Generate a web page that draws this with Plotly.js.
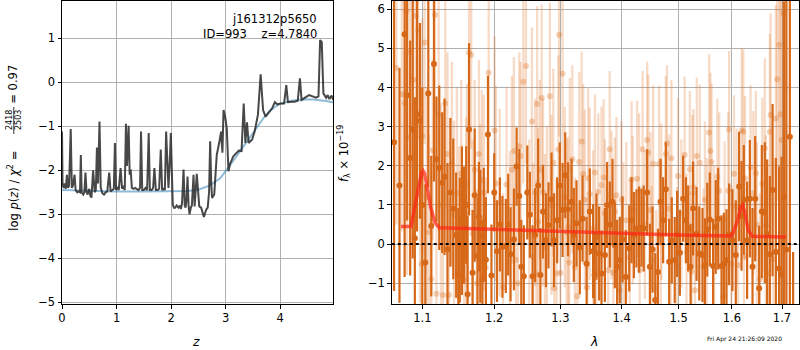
<!DOCTYPE html>
<html>
<head>
<meta charset="utf-8">
<script src="https://cdn.plot.ly/plotly-3.0.1.min.js"></script>
<style>html,body{margin:0;padding:0;background:#fff;}#chart{width:800px;height:350px;}</style>
</head>
<body>
<div id="chart"></div>
<script>
// ---- Left panel: log p(z) ----
const zGrid = [0,0.01,0.03,0.05,0.07,0.09,0.11,0.13,0.16,0.18,0.2,0.23,0.25,0.28,0.3,0.33,0.345,0.36,0.39,0.41,0.43,0.45,0.47,0.5,0.52,0.54,0.57,0.6,0.62,0.64,0.66,0.687,0.71,0.74,0.77,0.8,0.83,0.865,0.89,0.92,0.95,0.97,0.99,1.01,1.04,1.074,1.1,1.123,1.15,1.172,1.19,1.205,1.221,1.24,1.258,1.28,1.31,1.34,1.37,1.4,1.43,1.448,1.47,1.5,1.53,1.56,1.589,1.61,1.644,1.67,1.693,1.72,1.75,1.78,1.81,1.835,1.86,1.885,1.908,1.93,1.951,1.975,1.994,2.015,2.03,2.05,2.074,2.1,2.135,2.16,2.178,2.2,2.227,2.25,2.264,2.28,2.3,2.32,2.337,2.36,2.38,2.41,2.43,2.47,2.5,2.515,2.55,2.6,2.64,2.67,2.695,2.715,2.735,2.75,2.79,2.836,2.88,2.915,2.94,2.96,2.99,3.02,3.05,3.08,3.14,3.2,3.24,3.29,3.33,3.36,3.39,3.42,3.485,3.53,3.59,3.64,3.685,3.73,3.79,3.85,3.9,3.945,4.0,4.07,4.11,4.14,4.2,4.26,4.32,4.36,4.39,4.44,4.49,4.53,4.59,4.655,4.7,4.73,4.76,4.79,4.84,4.87,4.9,4.94,4.97];
const logPz = [-1.12,-2.3,-2.4,-2.3,-2.42,-2.1,-2.4,-2.35,-1.06,-2.4,-2.35,-2.1,-2.45,-2.5,-2.48,-2.5,-1.65,-2.5,-2.55,-2.5,-2.05,-2.5,-2.55,-2.42,-2.58,-2.62,-2.0,-2.5,-2.45,-1.48,-2.3,-0.89,-2.4,-2.52,-2.55,-2.5,-2.48,-2.05,-2.48,-2.45,-2.42,-1.38,-2.45,-2.38,-2.45,-1.95,-2.42,-2.35,-2.45,-0.94,-1.9,-1.5,-0.99,-2.1,-1.98,-2.4,-2.42,-2.4,-2.42,-2.45,-2.4,-1.12,-2.45,-2.45,-2.4,-2.45,-1.15,-2.45,-2.45,-2.4,-1.95,-2.45,-2.45,-2.42,-1.53,-2.45,-2.42,-2.45,-1.12,-2.0,-2.4,-1.8,-1.15,-2.1,-2.78,-2.85,-2.85,-2.8,-2.85,-2.8,-2.88,-2.75,-1.98,-2.8,-2.85,-2.7,-2.14,-2.8,-3.0,-2.85,-2.8,-2.1,-2.82,-2.08,-2.7,-2.82,-2.85,-3.06,-2.9,-2.85,-2.5,-1.34,-2.3,-2.63,-2.55,-1.65,-1.38,-1.12,-1.6,-0.63,-0.78,-1.05,-2.02,-1.85,-1.68,-1.6,-1.55,-1.56,-0.48,-1.38,-0.91,-1.38,-1.3,-1.12,-0.74,0.18,-0.63,-0.78,-0.68,-0.59,-0.45,-0.5,-0.48,-0.48,-0.06,-0.45,-0.44,-0.44,-0.42,0.09,-0.4,-0.35,-0.32,-0.29,-0.32,-0.35,-0.32,0.96,0.92,-0.25,-0.35,-0.29,-0.38,-0.3,-0.4];
const zPrior = [0,0.5,1,1.5,2,2.3,2.5,2.7,2.9,3.0,3.1,3.2,3.3,3.4,3.5,3.6,3.7,3.8,3.9,4.0,4.2,4.4,4.6,4.8,4.97];
const logPrior = [-2.45,-2.47,-2.48,-2.48,-2.48,-2.47,-2.44,-2.35,-2.18,-2.02,-1.85,-1.68,-1.5,-1.32,-1.14,-0.96,-0.8,-0.66,-0.56,-0.49,-0.42,-0.39,-0.39,-0.42,-0.45];

// ---- Right panel: spectrum ----
const lamLight = [1.066,1.073,1.0773,1.079,1.080,1.084,1.088,1.0915,1.0945,1.097,1.099,1.100,1.103,1.106,1.109,1.112,1.114,1.117,1.119,1.122,1.125,1.128,1.131,1.134,1.136,1.140,1.143,1.147,1.150,1.153,1.157,1.160,1.161,1.164,1.167,1.169,1.172,1.175,1.178,1.180,1.182,1.185,1.188,1.192,1.2005,1.2025,1.208,1.213,1.218,1.223,1.226,1.229,1.232,1.235,1.237,1.239,1.243,1.247,1.252,1.256,1.258,1.261,1.263,1.264,1.2655,1.268,1.271,1.273,1.276,1.279,1.2836,1.286,1.289,1.2905,1.294,1.297,1.298,1.300,1.3035,1.307,1.310,1.3125,1.314,1.315,1.319,1.323,1.327,1.330,1.334,1.3365,1.339,1.343,1.3445,1.347,1.3526,1.3555,1.358,1.361,1.3664,1.370,1.372,1.3775,1.380,1.383,1.386,1.3886,1.3913,1.397,1.3998,1.403,1.408,1.414,1.417,1.419,1.4265,1.430,1.431,1.436,1.440,1.444,1.446,1.450,1.4518,1.4545,1.460,1.465,1.468,1.469,1.477,1.479,1.483,1.4857,1.487,1.4973,1.499,1.505,1.511,1.5145,1.5206,1.5237,1.5255,1.527,1.530,1.5335,1.539,1.546,1.5486,1.552,1.5565,1.559,1.561,1.566,1.572,1.5755,1.583,1.586,1.593,1.5946,1.599,1.604,1.609,1.612,1.619,1.6222,1.6235,1.6255,1.6365,1.642,1.647,1.649,1.655,1.660,1.665,1.667,1.6697,1.6752,1.6766,1.682,1.6874,1.690,1.694,1.697,1.699,1.703,1.706];
const fluxLight = [4.5,3.83,3.6,5.95,2.72,4.9,4.2,5.83,5.47,1.5,-0.5,2.76,5.15,1.2,0.3,-0.9,2.4,5.85,-1.27,3.3,1.0,-1.3,3.6,2.3,-1.3,2.05,0.75,1.3,0.0,1.8,-0.9,0.74,1.5,4.89,4.83,0.27,1.9,-1.0,2.3,0.66,1.64,1.31,-0.6,4.38,2.9,1.55,1.06,-1.1,1.52,0.08,1.9,2.38,-0.4,-1.0,2.5,2.25,4.15,4.55,0.27,3.13,-0.33,1.32,-0.77,3.58,0.57,1.9,3.73,1.32,-0.1,0.72,3.78,1.0,2.08,-1.13,-0.75,2.42,5.35,-0.73,4.35,1.2,0.3,0.44,-0.47,1.94,2.17,-0.6,-1.33,2.1,2.62,1.79,1.13,-1.1,1.68,1.28,0.4,1.83,-0.71,1.34,1.51,1.7,0.78,-0.67,2.42,1.0,-0.73,0.83,1.25,-1.18,1.13,0.2,0.61,-0.34,1.65,0.87,1.67,1.34,-0.67,2.42,0.5,2.66,2.34,0.87,-0.41,2.05,-1.13,2.05,0.26,1.08,2.3,2.57,0.9,0.1,2.19,-0.54,1.74,0.78,2.28,-0.2,1.91,-0.71,1.3,1.45,-1.18,2.25,2.08,-0.58,1.13,0.3,2.85,2.38,2.1,0.0,1.72,1.36,-1.35,0.63,1.36,2.93,-0.5,1.8,0.95,-0.54,2.91,2.87,-0.31,1.68,1.96,1.3,1.81,0.5,-0.9,1.54,2.45,0.48,-0.75,2.87,3.3,-0.39,3.21,4.21,5.09,3.32,2.66,5.9,4.0];
const errLight = [4.0,3.5,3.0,3.0,3.5,3.0,3.2,3.0,2.8,3.0,3.2,3.0,2.6,2.8,2.5,2.8,2.3,2.5,2.3,
  3.0,2.6,2.8,2.7,2.6,2.5,2.6,2.4,2.7,2.5,2.4,2.5,2.5,2.6,2.4,2.4,2.4,2.3,2.4,2.4,2.4,2.3,2.5,2.3,2.4,
  2.4,2.5,2.4,2.4,2.5,2.3,2.4,2.4,2.4,2.3,2.4,2.4,2.6,2.5,2.4,2.4,2.4,2.4,2.4,2.5,2.4,2.3,2.4,2.4,2.4,2.3,2.4,2.3,2.4,2.4,2.4,2.4,2.6,2.3,2.4,2.3,2.4,2.3,2.4,2.3,2.4,2.3,2.3,2.3,2.3,2.3,2.3,2.3,2.3,2.2,
  2.0,2.0,1.9,2.0,2.0,2.0,1.9,2.0,2.0,1.9,2.0,1.9,2.0,1.9,2.0,1.9,2.0,2.0,2.0,1.9,2.0,2.0,1.9,2.0,1.9,2.0,2.0,2.0,1.9,2.0,2.0,2.0,1.9,2.0,2.0,2.0,1.9,1.9,2.0,2.0,2.0,1.9,2.0,2.0,2.0,1.9,2.0,
  2.0,2.0,2.0,2.0,2.0,2.0,1.9,2.0,2.0,2.0,2.0,2.0,2.0,2.0,2.0,2.0,2.0,2.0,2.0,2.0,2.0,2.1,2.1,2.0,2.1,2.1,2.1,2.1,2.1,2.2,2.2,2.3,2.3,2.3,2.5,2.6,2.6,2.9,3.1,3.3,3.3,3.6,3.8,4.0];

const lamDark = [1.063,1.070,1.0767,1.080,1.084,1.0873,1.0901,1.093,1.0969,1.100,1.104,1.108,1.112,1.1156,1.119,1.1228,1.1268,1.130,1.134,1.138,1.142,1.146,1.149,1.151,1.154,1.157,1.160,1.162,1.164,1.169,1.172,1.176,1.178,1.180,1.183,1.185,1.188,1.191,1.196,1.200,1.204,1.2083,1.212,1.217,1.2205,1.224,1.229,1.233,1.237,1.240,1.2438,1.249,1.2529,1.257,1.261,1.2655,1.269,1.273,1.2775,1.2815,1.2862,1.290,1.295,1.2992,1.3035,1.3077,1.312,1.3177,1.3214,1.3257,1.331,1.3354,1.342,1.3472,1.3526,1.355,1.358,1.3625,1.3664,1.372,1.3757,1.3802,1.3847,1.3886,1.3925,1.397,1.4016,1.4072,1.413,1.417,1.421,1.4255,1.430,1.4342,1.438,1.444,1.4488,1.4535,1.4582,1.463,1.4676,1.4722,1.477,1.483,1.4877,1.493,1.4973,1.5023,1.5083,1.5133,1.5175,1.522,1.5266,1.533,1.538,1.544,1.5486,1.553,1.5578,1.564,1.569,1.5736,1.580,1.5845,1.5896,1.5946,1.601,1.6075,1.614,1.6187,1.6232,1.6297,1.6351,1.6404,1.6457,1.6536,1.659,1.665,1.6697,1.6752,1.6807,1.6874,1.694,1.699,1.704,1.709,1.7162,1.723];
const fluxDark = [2.6,1.5,5.36,3.8,2.2,2.93,0.15,3.32,3.15,1.0,-0.47,3.85,0.46,4.6,2.17,1.95,1.57,1.72,-0.13,1.32,0.9,0.23,-0.78,0.1,0.6,0.48,1.0,-1.28,2.93,-0.73,1.25,-0.3,0.7,0.2,-0.9,0.55,-0.4,2.8,-0.8,1.32,-0.18,0.5,-0.07,-0.05,0.5,-0.26,0.12,1.98,1.23,-0.58,-0.82,1.32,0.75,-0.82,0.23,1.5,-0.79,0.83,0.1,0.48,1.14,0.1,0.61,1.5,0.87,1.76,0.89,1.08,0.23,0.53,-0.08,0.65,-0.5,0.83,-0.18,-0.79,0.19,-0.24,-0.75,-0.28,1.0,0.5,1.08,-0.03,-0.58,-0.41,0.12,-0.84,-0.11,0.61,0.23,0.4,0.37,0.42,0.4,1.32,-0.58,-0.14,-1.43,-0.71,1.08,0.61,1.4,-0.45,0.1,-0.41,0.26,-0.22,1.16,0.61,0.4,-0.58,0.91,0.26,-0.24,-0.28,-0.54,0.37,0.63,-0.56,0.44,0.65,-0.56,-0.5,-0.41,0.25,0.1,-0.28,1.47,0.72,1.13,0.1,1.16,-0.58,1.16,-1.13,0.83,0.8,0.26,-0.26,1.38,-0.2,-0.62,-0.77,1.2,-0.14,2.74,-2.2];
const errDark = [3.8,3.0,6.2,3.2,3.0,3.3,3.6,3.0,2.5,3.0,2.0,2.4,1.8,3.0,1.6,2.1,1.8,2.0,2.2,1.9,1.8,1.6,1.7,1.6,1.9,1.5,1.5,2.0,2.2,1.6,1.7,1.5,1.4,1.7,1.5,1.4,1.6,1.5,1.3,1.0,1.3,1.2,1.3,1.2,1.3,1.2,1.3,1.0,1.2,1.2,1.3,1.2,1.1,1.3,1.2,1.2,1.2,1.2,1.2,1.1,1.2,1.2,1.1,1.1,1.2,1.1,1.2,1.1,1.2,1.1,1.2,1.1,1.2,1.1,1.2,1.1,1.1,1.2,1.1,1.2,1.1,1.1,1.1,1.1,1.2,1.1,1.1,1.2,1.1,1.1,1.1,1.0,1.1,1.0,1.1,1.1,1.1,1.1,1.2,1.1,1.1,1.1,1.2,1.1,1.1,1.1,1.1,1.1,1.1,1.1,1.1,1.1,1.2,1.2,1.2,1.2,1.2,1.2,1.2,1.2,1.2,1.3,1.3,1.3,1.3,1.3,1.3,1.4,1.4,1.4,1.4,1.5,1.5,1.5,1.6,1.6,1.7,1.8,1.9,2.0,2.2,2.4,2.6,3.0,5.0,6.5,5.0,2.0];

const lamModel = [1.072,1.085,1.091,1.096,1.099,1.101,1.103,1.106,1.111,1.117,1.123,1.2,1.3,1.4,1.5,1.6,1.611,1.617,1.621,1.626,1.632,1.64,1.708];
const fluxModel = [0.45,0.45,1.05,1.6,1.82,1.87,1.8,1.5,0.95,0.55,0.42,0.38,0.32,0.26,0.23,0.21,0.6,0.95,1.0,0.75,0.35,0.2,0.18];

const lamTicks = [1.1,1.2,1.3,1.4,1.5,1.6,1.7];
const lamTickText = ['1.1','1.2','1.3','1.4','1.5','1.6','1.7'];

const FONT = 'DejaVu Sans, sans-serif';
const orangeDark = 'rgb(214,104,24)';
const orangeLight = 'rgba(222,112,30,0.25)';

const traces = [
  {x: zPrior, y: logPrior, xaxis:'x', yaxis:'y', mode:'lines', line:{color:'rgba(31,119,180,0.5)', width:2}, hoverinfo:'skip'},
  {x: zGrid, y: logPz, xaxis:'x', yaxis:'y', mode:'lines', line:{color:'rgba(40,40,40,0.85)', width:2}, hoverinfo:'skip'},
  {x: lamLight, y: fluxLight, xaxis:'x2', yaxis:'y2', mode:'markers',
   marker:{color:'rgba(222,112,30,0.32)', size:6, line:{width:0}},
   error_y:{type:'data', array:errLight, visible:true, thickness:2.3, width:0, color:orangeLight}},
  {x: lamDark, y: fluxDark, xaxis:'x2', yaxis:'y2', mode:'markers',
   marker:{color:orangeDark, size:6, line:{width:0}},
   error_y:{type:'data', array:errDark, visible:true, thickness:2.2, width:0, color:orangeDark}},
  {x: lamModel, y: fluxModel, xaxis:'x2', yaxis:'y2', mode:'lines', line:{color:'rgba(255,35,20,0.7)', width:3.5}}
];

const axisCommon = {
  showgrid:true, gridcolor:'#b0b0b0', gridwidth:1, zeroline:false,
  showline:true, mirror:true, linecolor:'black', linewidth:1,
  ticks:'outside', ticklen:3.5, tickwidth:1, tickcolor:'black',
  tickfont:{family:FONT, size:11.5, color:'black'}, automargin:false
};

function px2paperX(x){ return (x-62)/737; }
function px2paperY(y){ return (304-y)/303; }

const layout = {
  width:800, height:350,
  margin:{l:62, r:1, t:1, b:46, pad:0},
  paper_bgcolor:'white', plot_bgcolor:'white',
  showlegend:false,
  font:{family:FONT, size:11.5, color:'black'},
  xaxis: Object.assign({}, axisCommon, {domain:[0, 0.368], range:[0, 4.97], tick0:0, dtick:1, anchor:'y'}),
  yaxis: Object.assign({}, axisCommon, {domain:[0,1], range:[-5.04, 1.85], tick0:0, dtick:1, anchor:'x'}),
  xaxis2: Object.assign({}, axisCommon, {domain:[0.4474, 1], type:'log', range:[0.02532, 0.23938], tickmode:'array', tickvals:lamTicks, ticktext:lamTickText, anchor:'y2'}),
  yaxis2: Object.assign({}, axisCommon, {domain:[0,1], range:[-1.53, 6.21], tick0:0, dtick:1, anchor:'x2'}),
  shapes: [
    {type:'line', xref:'x2 domain', yref:'y2', x0:0, x1:1, y0:0, y1:0, line:{color:'black', width:2, dash:'dot'}, layer:'above'},
    {type:'line', xref:'paper', yref:'paper', x0:px2paperX(13.8), x1:px2paperX(13.8), y0:px2paperY(107), y1:px2paperY(134), line:{color:'black', width:0.8}}
  ],
  annotations: [
    {xref:'paper', yref:'paper', x:px2paperX(319), y:px2paperY(19), text:'j161312p5650', showarrow:false, xanchor:'right', yanchor:'middle', font:{family:FONT, size:11.5}},
    {xref:'paper', yref:'paper', x:px2paperX(319), y:px2paperY(34), text:'ID=993\u00a0\u00a0\u00a0\u00a0z=4.7840', showarrow:false, xanchor:'right', yanchor:'middle', font:{family:FONT, size:11.5}},
    {xref:'paper', yref:'paper', x:px2paperX(196), y:px2paperY(341), text:'<i>z</i>', showarrow:false, xanchor:'center', yanchor:'middle', font:{family:FONT, size:12.5}},
    {xref:'paper', yref:'paper', x:px2paperX(594), y:px2paperY(341), text:'<i>λ</i>', showarrow:false, xanchor:'center', yanchor:'middle', font:{family:FONT, size:12.5}},
    {xref:'paper', yref:'paper', x:px2paperX(12.7), y:px2paperY(191), text:'log <i>p</i>(<i>z</i>) / <i>χ</i><sup>2</sup> =', textangle:-90, showarrow:false, xanchor:'center', yanchor:'middle', font:{family:FONT, size:11.5}},
    {xref:'paper', yref:'paper', x:px2paperX(9.5), y:px2paperY(120.5), text:'2418', textangle:-90, showarrow:false, xanchor:'center', yanchor:'middle', font:{family:FONT, size:8}},
    {xref:'paper', yref:'paper', x:px2paperX(18.5), y:px2paperY(120.5), text:'2503', textangle:-90, showarrow:false, xanchor:'center', yanchor:'middle', font:{family:FONT, size:8}},
    {xref:'paper', yref:'paper', x:px2paperX(12.7), y:px2paperY(84), text:'= 0.97', textangle:-90, showarrow:false, xanchor:'center', yanchor:'middle', font:{family:FONT, size:11.5}},
    {xref:'paper', yref:'paper', x:px2paperX(344), y:px2paperY(154), text:'<i>f</i><sub>λ</sub> × 10<sup>−19</sup>', textangle:-90, showarrow:false, xanchor:'center', yanchor:'middle', font:{family:FONT, size:11.5}},
    {xref:'paper', yref:'paper', x:px2paperX(744), y:px2paperY(339), text:'Fri Apr 24 21:26:09 2020', showarrow:false, xanchor:'center', yanchor:'middle', font:{family:FONT, size:6}}
  ]
};

Plotly.newPlot('chart', traces, layout, {displayModeBar:false, staticPlot:true});
</script>
</body>
</html>
